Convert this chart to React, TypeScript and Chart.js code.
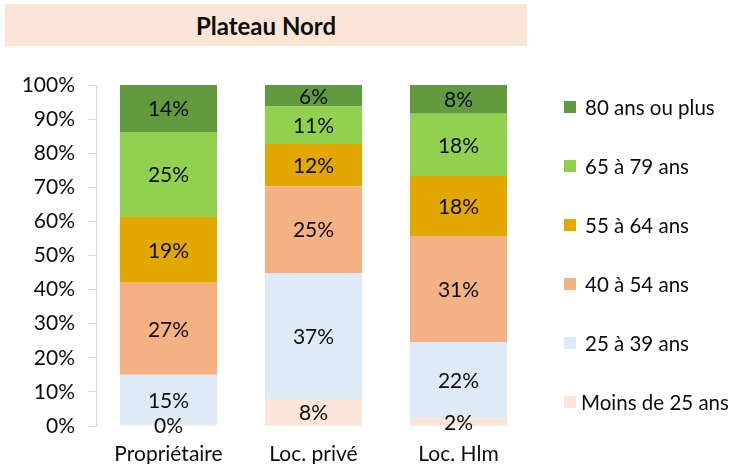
import React, { useEffect, useRef } from "react";
import { Chart, registerables } from "chart.js";

Chart.register(...registerables);

const categories = ["Propriétaire", "Loc. privé", "Loc. Hlm"];
const seriesNames = ["Moins de 25 ans", "25 à 39 ans", "40 à 54 ans", "55 à 64 ans", "65 à 79 ans", "80 ans ou plus"];
const moins25 = [0.4, 7.9, 2.3];
const a25_39 = [14.6, 37.0, 22.3];
const a40_54 = [27.0, 25.4, 31.1];
const a55_64 = [19.3, 12.4, 17.6];
const a65_79 = [24.9, 11.0, 18.3];
const a80plus = [13.8, 6.3, 8.4];
const seriesColors = ["#fbe5d6", "#deebf7", "#f4b183", "#e2a700", "#92d050", "#619a3f"];
const yTicks = [0, 10, 20, 30, 40, 50, 60, 70, 80, 90, 100];
const title = "Plateau Nord";

const FONT = "Lato, 'Open Sans', sans-serif";
const TEXT = "#0d0d0d";
const FS = 21;

export default function App() {
  const ref = useRef<HTMLCanvasElement | null>(null);
  useEffect(() => {
    const canvas = ref.current;
    if (!canvas) return;
    const all = [moins25, a25_39, a40_54, a55_64, a65_79, a80plus];
    const labelsPlugin = {
      id: "segLabels",
      afterDatasetsDraw(chart: any) {
        const ctx = chart.ctx;
        ctx.save();
        ctx.font = `${FS}px ${FONT}`;
        ctx.fillStyle = TEXT;
        ctx.textAlign = "center";
        ctx.textBaseline = "middle";
        chart.data.datasets.forEach((ds: any, di: number) => {
          const meta = chart.getDatasetMeta(di);
          meta.data.forEach((el: any, i: number) => {
            const v = ds.data[i];
            const cy = (el.y + el.base) / 2;
            ctx.fillText(Math.round(v) + "%", el.x, cy + 1);
          });
        });
        ctx.restore();
      },
    };
    const legendPlugin = {
      id: "customLegend",
      afterDraw(chart: any) {
        const ctx = chart.ctx;
        const left = chart.chartArea.right + 33;
        const top = chart.chartArea.top + 22;
        const step = 59;
        ctx.save();
        ctx.font = `20.5px ${FONT}`;
        ctx.textBaseline = "middle";
        ctx.textAlign = "left";
        const n = seriesNames.length;
        for (let k = 0; k < n; k++) {
          const idx = n - 1 - k;
          const cy = top + k * step;
          ctx.fillStyle = seriesColors[idx];
          ctx.fillRect(left, cy - 6, 12, 12);
          ctx.fillStyle = TEXT;
          const gap = idx === 0 ? 17 : 21;
          ctx.fillText(seriesNames[idx], left + gap, cy + 1);
        }
        ctx.restore();
      },
    };
    const chart = new Chart(canvas, {
      type: "bar",
      data: {
        labels: categories,
        datasets: all.map((d, i) => ({
          label: seriesNames[i],
          data: d,
          backgroundColor: seriesColors[i],
          borderWidth: 0,
          categoryPercentage: 0.67,
          barPercentage: 1,
        })),
      },
      options: {
        animation: false,
        responsive: false,
        maintainAspectRatio: false,
        layout: { padding: { left: 0, top: 85, right: 201, bottom: 0 } },
        plugins: { legend: { display: false }, tooltip: { enabled: false }, title: { display: false } },
        scales: {
          x: {
            stacked: true,
            grid: { display: false, drawTicks: false },
            border: { display: false },
            ticks: { font: { family: FONT, size: FS }, color: TEXT, padding: 16 },
            afterFit: (s: any) => { s.height = 38; },
          },
          y: {
            stacked: true,
            min: 0,
            max: 100,
            afterBuildTicks: (s: any) => { s.ticks = yTicks.map((v) => ({ value: v })); },
            grid: { drawOnChartArea: false, drawTicks: true, tickLength: 8, color: "#d9d9d9" },
            border: { display: true, color: "#d9d9d9" },
            ticks: {
              font: { family: FONT, size: FS },
              color: TEXT,
              padding: 13,
              callback: (v: any) => v + "%",
            },
            afterFit: (s: any) => { s.width = 96; },
          },
        },
      },
      plugins: [labelsPlugin, legendPlugin],
    });
    return () => chart.destroy();
  }, []);
  return (
    <div style={{ position: "fixed", left: 0, top: 0, width: 732, height: 464, background: "#fff", overflow: "hidden" }}>
      <canvas ref={ref} width={732} height={464} style={{ position: "absolute", left: 0, top: 0 }} />
      <div
        style={{
          position: "absolute",
          left: 5,
          top: 4,
          width: 522,
          height: 42,
          background: "#fce4d6",
          fontFamily: FONT,
          fontWeight: 700,
          fontSize: 24,
          color: TEXT,
          display: "flex",
          alignItems: "center",
          justifyContent: "center",
        }}
      >
        {title}
      </div>
    </div>
  );
}
